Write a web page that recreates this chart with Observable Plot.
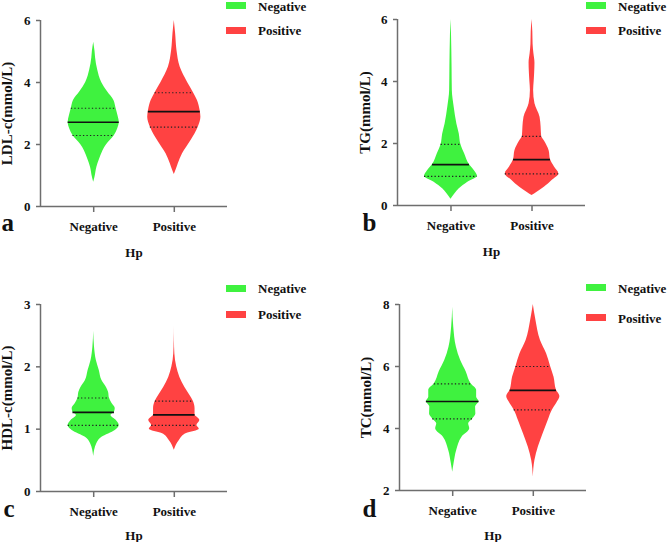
<!DOCTYPE html>
<html><head><meta charset="utf-8">
<script src="https://cdn.jsdelivr.net/npm/d3@7"></script>
<script src="https://cdn.jsdelivr.net/npm/@observablehq/plot@0.6"></script>
<style>
body{margin:0;background:#fff;}
#fig{position:relative;width:669px;height:542px;overflow:hidden;font-family:"Liberation Serif","Times New Roman",serif;font-weight:bold;}
.panel{position:absolute;}
.leg{position:absolute;font-size:13px;line-height:9px;color:#111;white-space:nowrap;}
.sw{position:absolute;width:20px;height:7px;}
</style></head><body><div id="fig"></div>
<script>
const groups = ["Negative", "Positive"];
const colors = ["#3ff23f", "#ff4242"];
const axisLabel = "Hp";

// violin profiles: [value, relative density]
const ldlNeg = [[0.78,0],[0.95,0.05],[1.27,0.12],[1.5,0.21],[1.8,0.35],[2.0,0.49],[2.29,0.78],[2.5,0.9],[2.72,0.96],[2.9,0.92],[3.17,0.84],[3.42,0.76],[3.7,0.52],[4.0,0.3],[4.4,0.15],[4.8,0.07],[5.0,0.05],[5.3,0]];
const ldlPos = [[1.03,0],[1.16,0.06],[1.38,0.15],[1.7,0.31],[2.13,0.63],[2.56,0.9],[2.88,1.0],[3.1,0.97],[3.42,0.87],[3.67,0.72],[4.0,0.5],[4.5,0.22],[5.03,0.1],[5.57,0.05],[6.0,0]];
const tgNeg = [[0.2,0],[0.38,0.15],[0.54,0.31],[0.75,0.63],[0.94,0.99],[1.13,0.87],[1.32,0.69],[1.67,0.51],[1.97,0.37],[2.31,0.31],[2.63,0.22],[3.17,0.12],[3.71,0.05],[4.47,0.04],[5.5,0.02],[6.0,0]];
const tgPos = [[0.32,0],[0.43,0.19],[0.59,0.46],[0.81,0.75],[1.02,1.0],[1.24,0.84],[1.48,0.69],[1.77,0.64],[2.07,0.47],[2.23,0.36],[2.53,0.34],[2.85,0.3],[3.28,0.11],[3.71,0.06],[4.0,0.08],[4.3,0.1],[4.6,0.11],[4.9,0.07],[5.2,0.04],[5.6,0.03],[6.0,0]];
const hdlNeg = [[0.56,0],[0.77,0.12],[0.87,0.31],[0.98,0.81],[1.06,0.96],[1.14,0.85],[1.22,0.65],[1.27,0.78],[1.33,0.81],[1.41,0.69],[1.5,0.59],[1.59,0.56],[1.67,0.48],[1.78,0.31],[1.94,0.21],[2.1,0.1],[2.32,0.03],[2.57,0]];
const hdlPos = [[0.66,0],[0.82,0.19],[0.93,0.46],[1.0,0.94],[1.06,0.85],[1.14,0.96],[1.23,0.78],[1.33,0.78],[1.45,0.71],[1.54,0.59],[1.67,0.4],[1.83,0.21],[2.0,0.09],[2.21,0.02],[2.42,0.005],[2.65,0]];
const tcNeg = [[2.59,0],[2.86,0.05],[3.29,0.15],[3.72,0.35],[3.99,0.64],[4.15,0.6],[4.31,0.75],[4.47,0.87],[4.69,0.86],[4.87,0.99],[5.01,0.9],[5.23,0.9],[5.44,0.69],[5.82,0.51],[6.19,0.3],[6.62,0.14],[7.27,0.04],[7.91,0]];
const tcPos = [[2.43,0],[2.97,0.06],[3.4,0.19],[3.83,0.37],[4.26,0.56],[4.6,0.72],[4.8,0.87],[5.03,1.0],[5.23,0.87],[5.65,0.78],[6.0,0.65],[6.41,0.5],[6.84,0.27],[7.48,0.1],[8.0,0]];

// quartiles [Q1, median, Q3]
const ldlNegQ = [2.29, 2.72, 3.17];
const ldlPosQ = [2.56, 3.06, 3.67];
const tgNegQ = [0.94, 1.32, 1.97];
const tgPosQ = [1.02, 1.48, 2.23];
const hdlNegQ = [1.06, 1.27, 1.5];
const hdlPosQ = [1.06, 1.23, 1.45];
const tcNegQ = [4.31, 4.87, 5.44];
const tcPosQ = [4.6, 5.23, 6.0];

// y axis labels, domains and ticks
const yLabels = ["LDL-c(mmol/L)", "TG(mmol/L)", "HDL-c(mmol/L)", "TC(mmol/L)"];
const yDomains = [[0,6],[0,6],[0,3],[2,8]];
const yTicks = [[0,2,4,6],[0,2,4,6],[0,1,2,3],[2,4,6,8]];
const panelKeys = ["a","b","c","d"];

const layout = [
  {left:0, top:0, w:335, mt:20, mr:108, mb:65, ml:40, ylx:-29, kx:-39, ky:24, hp:50,
   leg:[{sx:226, sy:2, tx:258, ty:11},{sx:226, sy:27, tx:258, ty:35}]},
  {left:335, top:0, w:334, mt:19, mr:84, mb:66, ml:62, ylx:-28, kx:-35, ky:25, hp:50,
   leg:[{sx:586, sy:2, tx:618, ty:11},{sx:586, sy:27, tx:618, ty:35}]},
  {left:0, top:271, w:335, mt:33, mr:108, mb:51, ml:40, ylx:-29, kx:-37, ky:25, hp:48,
   leg:[{sx:226, sy:285, tx:258, ty:293},{sx:226, sy:311, tx:258, ty:319}]},
  {left:335, top:271, w:334, mt:33, mr:83, mb:52, ml:64, ylx:-29, kx:-37, ky:26, hp:49,
   leg:[{sx:586, sy:284, tx:618, ty:293},{sx:586, sy:314, tx:618, ty:323}]}
];
const profiles = [[ldlNeg, ldlPos],[tgNeg, tgPos],[hdlNeg, hdlPos],[tcNeg, tcPos]];
const quarts = [[ldlNegQ, ldlPosQ],[tgNegQ, tgPosQ],[hdlNegQ, hdlPosQ],[tcNegQ, tcPosQ]];

function halfAt(p, v){
  for (let i = 1; i < p.length; i++) {
    if (v <= p[i][0]) {
      const [v0,d0] = p[i-1], [v1,d1] = p[i];
      return d0 + (d1 - d0) * (v - v0) / (v1 - v0);
    }
  }
  return 0;
}

const fig = document.getElementById("fig");
const K = 0.33;
const axisGray = "#6e6e6e";
const xDomain = [-0.66, 1.66];

layout.forEach((L, k) => {
  const marks = [];
  profiles[k].forEach((prof, g) => {
    const rows = prof.map(([v, d]) => ({g, v, d}));
    marks.push(Plot.areaX(rows, {y: "v", x1: r => r.g - r.d*K, x2: r => r.g + r.d*K, fill: colors[g], curve: "monotone-y"}));
  });
  quarts[k].forEach((q, g) => {
    const rows = q.map((v, j) => ({g, v, j, h: halfAt(profiles[k][g], v) * K}));
    marks.push(Plot.ruleY(rows.filter(r => r.j !== 1), {y: "v", x1: r => r.g - r.h, x2: r => r.g + r.h, stroke: "#222", strokeWidth: 1.2, strokeDasharray: "1.3,2.2"}));
    marks.push(Plot.ruleY(rows.filter(r => r.j === 1), {y: "v", x1: r => r.g - r.h, x2: r => r.g + r.h, stroke: "#111", strokeWidth: 1.6}));
  });
  marks.push(Plot.ruleX([xDomain[0]], {stroke: axisGray, strokeWidth: 1.5}));
  marks.push(Plot.ruleY([yDomains[k][0]], {stroke: axisGray, strokeWidth: 1.5}));
  marks.push(Plot.axisY({ticks: yTicks[k], tickFormat: d => String(d), tickSize: 4, tickPadding: 6, stroke: axisGray, strokeWidth: 1.5, fill: "#111", fontSize: 13, fontWeight: "bold", label: null}));
  marks.push(Plot.axisX({ticks: [0, 1], tickFormat: i => groups[i], tickSize: 6, tickPadding: 9, stroke: axisGray, strokeWidth: 1.5, fill: "#111", fontSize: 13, fontWeight: "bold", label: null}));
  marks.push(Plot.text([yLabels[k]], {text: d => d, frameAnchor: "left", dx: L.ylx, rotate: -90, fontSize: 15, fontWeight: "bold", lineAnchor: "bottom", textAnchor: "middle", fill: "#111"}));
  marks.push(Plot.text([axisLabel], {text: d => d, frameAnchor: "bottom", dy: L.hp, lineAnchor: "bottom", textAnchor: "middle", fontSize: 13, fontWeight: "bold", fill: "#111"}));
  marks.push(Plot.text([panelKeys[k]], {text: d => d, frameAnchor: "bottom-left", dx: L.kx, dy: L.ky, lineAnchor: "bottom", textAnchor: "start", fontSize: 25, fontWeight: "bold", fill: "#111"}));

  const svg = Plot.plot({
    width: L.w, height: 271,
    marginTop: L.mt, marginRight: L.mr, marginBottom: L.mb, marginLeft: L.ml,
    x: {domain: xDomain},
    y: {domain: yDomains[k]},
    style: {fontFamily: "'Liberation Serif', 'Times New Roman', serif", fontWeight: "bold", background: "transparent", overflow: "visible", color: "#111"},
    marks
  });
  const wrap = document.createElement("div");
  wrap.className = "panel";
  wrap.style.left = L.left + "px";
  wrap.style.top = L.top + "px";
  wrap.appendChild(svg);
  fig.appendChild(wrap);

  L.leg.forEach((e, g) => {
    const sw = document.createElement("div");
    sw.className = "sw";
    sw.style.left = e.sx + "px"; sw.style.top = e.sy + "px"; sw.style.background = colors[g];
    fig.appendChild(sw);
    const t = document.createElement("div");
    t.className = "leg";
    t.textContent = groups[g];
    t.style.left = e.tx + "px"; t.style.top = (e.ty - 8.9) + "px";
    fig.appendChild(t);
  });
});
</script></body></html>
